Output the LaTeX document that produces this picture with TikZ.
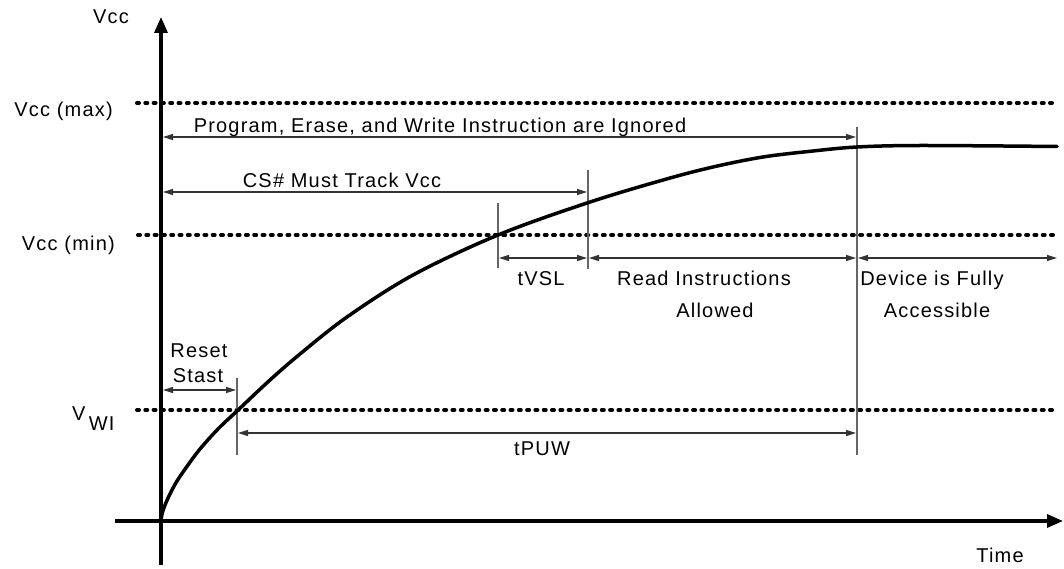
\documentclass[tikz,border=0pt]{standalone}
\usepackage{fontspec}
\setmainfont{Liberation Sans}[LetterSpace=6]
\usetikzlibrary{arrows.meta}
\begin{document}
\begin{tikzpicture}[x=1pt,y=-1pt,
  lbl/.style={font=\fontsize{20}{24}\selectfont, inner sep=0pt},
  axis/.style={line width=3.2pt, -{Triangle[length=16pt,width=13pt]}},
  level/.style={line width=4pt, line cap=round, dash pattern=on 2pt off 6.3pt},
  span/.style={line width=1.2pt, draw=black!80, {Triangle[length=10pt,width=6pt]}-{Triangle[length=10pt,width=6pt]}},
  marker/.style={line width=1.3pt, draw=black!60},
  curve/.style={line width=3.5pt, line join=round, line cap=round}
]
\useasboundingbox (0,0) rectangle (1064,569);
% axes
\coordinate (O) at (161,521);
\coordinate (ytop) at (161,17);
\coordinate (ybot) at (161,565);
\coordinate (xl) at (115,521);
\coordinate (xr) at (1063,521);
\draw[axis] (ybot) -- (ytop);
\draw[axis] (xl) -- (xr);
% levels
\coordinate (maxL) at (137,103); \coordinate (maxR) at (1055,103);
\coordinate (minL) at (138,235); \coordinate (minR) at (1055,235);
\coordinate (wiL) at (137,410);  \coordinate (wiR) at (1055,410);
\draw[level] (maxL) -- (maxR);
\draw[level] (minL) -- (minR);
\draw[level] (wiL) -- (wiR);
% markers
\coordinate (m1t) at (237,378); \coordinate (m1b) at (237,455);
\coordinate (m2t) at (498,203); \coordinate (m2b) at (498,268);
\coordinate (m3t) at (588,170); \coordinate (m3b) at (588,269);
\coordinate (m4t) at (857,127); \coordinate (m4b) at (857,455);
\draw[marker] (m1t) -- (m1b);
\draw[marker] (m2t) -- (m2b);
\draw[marker] (m3t) -- (m3b);
\draw[marker] (m4t) -- (m4b);
% spans
\coordinate (pL) at (163,137); \coordinate (pR) at (856,137);
\coordinate (cL) at (163,192); \coordinate (cR) at (587,192);
\coordinate (vL) at (499,258); \coordinate (vR) at (587,258);
\coordinate (rL) at (589,258); \coordinate (rR) at (856,258);
\coordinate (dL) at (858,258); \coordinate (dR) at (1057,258);
\coordinate (sL) at (163,390); \coordinate (sR) at (236,390);
\coordinate (uL) at (238,433); \coordinate (uR) at (856,433);
\draw[span] (pL) -- (pR);
\draw[span] (cL) -- (cR);
\draw[span] (vL) -- (vR);
\draw[span] (rL) -- (rR);
\draw[span] (dL) -- (dR);
\draw[span] (sL) -- (sR);
\draw[span] (uL) -- (uR);
% curve
\draw[curve] plot[smooth, tension=0.55] coordinates {
 (161,521) (162,514) (165,505) (170,494) (177,481) (188,465) (200,449)
 (218,429) (237,411) (270,380) (300,354) (347,317) (413,275) (498,235)
 (587,203) (663,180) (713,167) (763,157) (813,151) (857,147) (920,145.5) (1057,146.5)};
% labels
\node[lbl, anchor=base] (tvcc) at (111,24) {Vcc};
\node[lbl, anchor=base east] (tmax) at (113,117) {Vcc (max)};
\node[lbl, anchor=base east] (tmin) at (115,250) {Vcc (min)};
\node[lbl, anchor=base west] (tvwi) at (72,420) {V\raisebox{-10pt}{\,WI}};
\node[lbl, anchor=base] (tprog) at (440,133) {Program, Erase, and Write Instruction are Ignored};
\node[lbl, anchor=base] (tcs) at (342,188) {CS\# Must Track Vcc};
\node[lbl, anchor=base] (tvsl) at (541,285) {tVSL};
\node[lbl, anchor=base] (tread) at (704,285) {Read Instructions};
\node[lbl, anchor=base] (tallow) at (715,317) {Allowed};
\node[lbl, anchor=base] (tdev) at (932,285) {Device is Fully};
\node[lbl, anchor=base] (tacc) at (937,317) {Accessible};
\node[lbl, anchor=base] (treset) at (199,357) {Reset};
\node[lbl, anchor=base] (tstast) at (198,382) {Stast};
\node[lbl, anchor=base] (tpuw) at (542,455) {tPUW};
\node[lbl, anchor=base] (ttime) at (1000,562) {Time};
\end{tikzpicture}
\end{document}
